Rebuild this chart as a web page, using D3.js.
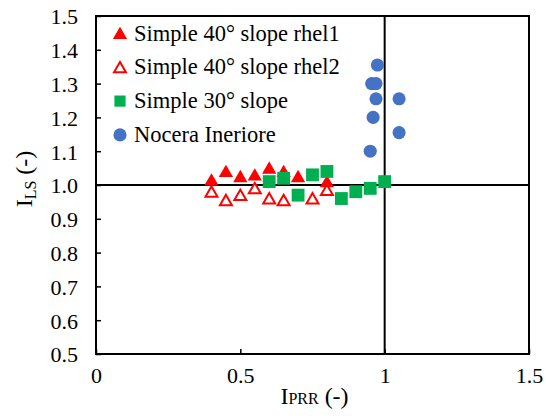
<!DOCTYPE html>
<html><head><meta charset="utf-8">
<script src="https://cdn.jsdelivr.net/npm/d3@7"></script>
<style>body{margin:0;background:#fff}svg{display:block}</style>
</head><body>
<script>
const xTicks = [0, 0.5, 1, 1.5];
const xTickLabels = ["0", "0.5", "1", "1.5"];
const yTicks = [0.5,0.6,0.7,0.8,0.9,1.0,1.1,1.2,1.3,1.4,1.5];
const yTickLabels = ["0.5","0.6","0.7","0.8","0.9","1.0","1.1","1.2","1.3","1.4","1.5"];
const seriesNames = ["Simple 40° slope rhel1","Simple 40° slope rhel2","Simple 30° slope","Nocera Ineriore"];
const rhel1X = [0.4,0.45,0.5,0.55,0.6,0.65,0.7,0.8];
const rhel1Y = [1.015,1.04,1.025,1.03,1.05,1.04,1.025,1.01];
const rhel2X = [0.4,0.45,0.5,0.55,0.6,0.65,0.75,0.8];
const rhel2Y = [0.98,0.955,0.97,0.99,0.96,0.955,0.96,0.985];
const s30X = [0.6,0.65,0.7,0.75,0.8,0.85,0.9,0.95,1.0];
const s30Y = [1.01,1.02,0.97,1.03,1.04,0.96,0.98,0.99,1.01];
const nocX = [0.975,0.955,0.97,0.97,1.05,0.96,1.05,0.95];
const nocY = [1.355,1.30,1.30,1.255,1.255,1.20,1.155,1.10];

const W=546,H=419, L=96,R=529,T=16,B=354;
const FONT='"Liberation Serif"';
const svg=d3.select("body").append("svg").attr("width",W).attr("height",H);
const x=d3.scaleLinear().domain([0,1.5]).range([L,R]);
const y=d3.scaleLinear().domain([0.5,1.5]).range([B,T]);

// axes
const yAxis=d3.axisLeft(y).tickValues(yTicks).tickSize(-5).tickPadding(18).tickFormat((d,i)=>yTickLabels[i]);
const gy=svg.append("g").attr("transform",`translate(${L},0)`).call(yAxis);
const xAxis=d3.axisBottom(x).tickValues(xTicks).tickSize(-5).tickPadding(14).tickFormat((d,i)=>xTickLabels[i]);
const gx=svg.append("g").attr("transform",`translate(0,${B})`).call(xAxis);
[gx,gy].forEach(g=>{g.select(".domain").remove();g.selectAll("line").attr("stroke","#000").attr("stroke-width",1.5);
 g.selectAll("text").style("font-family",FONT).style("font-size","22px").attr("fill","#000");});
gx.selectAll("text").attr("y",29).attr("dy",0);
gy.selectAll("text").attr("dy","0.36em");
// box
svg.append("rect").attr("x",L).attr("y",T).attr("width",R-L).attr("height",B-T).attr("fill","none").attr("stroke","#000").attr("stroke-width",2);
// reference lines
svg.append("line").attr("x1",x(1)).attr("x2",x(1)).attr("y1",T).attr("y2",B).attr("stroke","#000").attr("stroke-width",2);
svg.append("line").attr("x1",L).attr("x2",R).attr("y1",y(1)).attr("y2",y(1)).attr("stroke","#000").attr("stroke-width",2);

const tri=d3.symbol().type(d3.symbolTriangle).size(88)();
const triO=d3.symbol().type(d3.symbolTriangle).size(62)();
const sq=d3.symbol().type(d3.symbolSquare).size(165)();
const circ=d3.symbol().type(d3.symbolCircle).size(135)();
function triAt(cx,cy){return `translate(${cx},${cy+1.5})`;}

const red="#FF0000",green="#00B050",blue="#4472C4";
svg.append("g").selectAll("path").data(nocX.map((v,i)=>[v,nocY[i]])).join("path")
 .attr("d",circ).attr("transform",d=>`translate(${x(d[0])},${y(d[1])})`).attr("fill",blue);
svg.append("g").selectAll("path").data(rhel1X.map((v,i)=>[v,rhel1Y[i]])).join("path")
 .attr("d",tri).attr("transform",d=>triAt(x(d[0]),y(d[1]))).attr("fill",red);
svg.append("g").selectAll("path").data(rhel2X.map((v,i)=>[v,rhel2Y[i]])).join("path")
 .attr("d",triO).attr("transform",d=>triAt(x(d[0]),y(d[1]))).attr("fill","#fff").attr("stroke",red).attr("stroke-width",2);
svg.append("g").selectAll("path").data(s30X.map((v,i)=>[v,s30Y[i]])).join("path")
 .attr("d",sq).attr("transform",d=>`translate(${x(d[0])},${y(d[1])})`).attr("fill",green);

// legend
const leg=svg.append("g");
const rows=[{d:tri,f:red,s:"none"},{d:triO,f:"#fff",s:red},{d:d3.symbol().type(d3.symbolSquare).size(125)(),f:green,s:"none"},{d:circ,f:blue,s:"none"}];
rows.forEach((r,i)=>{
 const base=40.5+i*33.8;
 leg.append("path").attr("d",r.d).attr("transform",`translate(120,${base-7+(i<2?1.5:0)})`).attr("fill",r.f).attr("stroke",r.s).attr("stroke-width",2);
 leg.append("text").attr("x",134).attr("y",base).style("font-family",FONT).style("font-size","22.5px").attr("fill","#000").text(seriesNames[i]);
});

// axis titles
const xt=svg.append("text").attr("x",(L+R)/2+2).attr("y",404).attr("text-anchor","middle").style("font-family",FONT).style("font-size","24px").attr("fill","#000");
xt.append("tspan").text("I");
xt.append("tspan").style("font-size","16px").text("PRR");
xt.append("tspan").text(" (-)");
const yt=svg.append("text").attr("transform",`translate(32,179) rotate(-90)`).attr("text-anchor","middle").style("font-family",FONT).style("font-size","24px").attr("fill","#000");
yt.append("tspan").text("I");
yt.append("tspan").style("font-size","16px").attr("dy",4).text("LS");
yt.append("tspan").attr("dy",-4).text(" (-)");
</script>
</body></html>
